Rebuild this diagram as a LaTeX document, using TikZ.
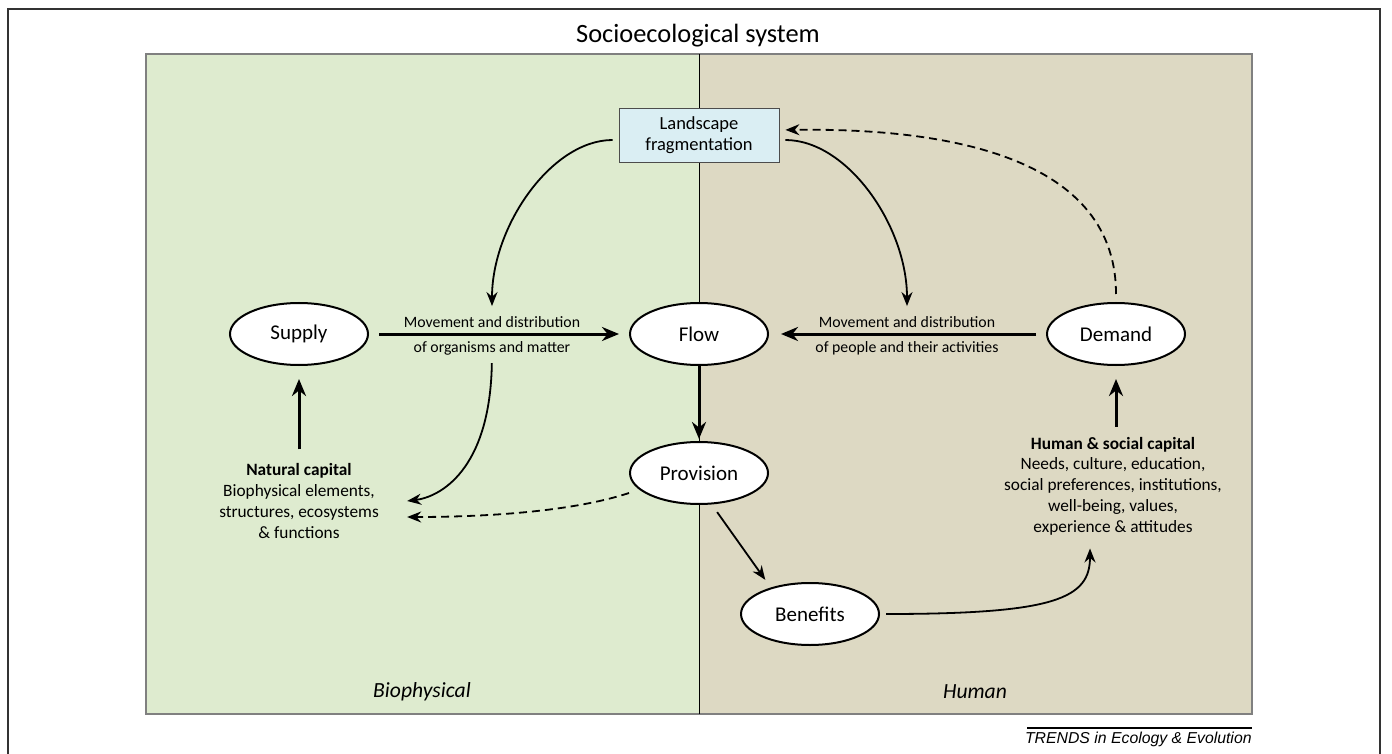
\documentclass[tikz,border=0pt]{standalone}
\usepackage{fontspec}
\setmainfont{Carlito}
\newfontfamily\trendsfont{Liberation Sans}
\usetikzlibrary{arrows.meta,shapes.geometric}

\definecolor{bioGreen}{RGB}{222,235,207}
\definecolor{humTan}{RGB}{221,217,195}
\definecolor{fragBlue}{RGB}{218,238,243}

\tikzset{
  ell/.style={ellipse, draw, line width=1pt, fill=white, minimum width=69pt, minimum height=31pt, inner sep=0pt, font=\fontsize{10.5}{12}\selectfont},
  fatarr/.style={line width=1.5pt, -{Stealth[length=8.5pt,width=7pt]}},
  arr/.style={line width=0.9pt, -{Stealth[length=7pt,width=5.5pt]}},
  mvtxt/.style={inner sep=0pt, font=\fontsize{7.9}{9}\selectfont},
  captxt/.style={align=center, inner sep=0pt, font=\fontsize{8.65}{10.4}\selectfont},
  dsh/.style={dash pattern=on 4pt off 2.5pt}
}

\begin{document}
\begin{tikzpicture}[x=0.5pt, y=-0.5pt]
\useasboundingbox (0,0) rectangle (1392,754);
\draw [line width=0.8pt, black!80](8,754)--(8,9)--(1380,9)--(1380,754);

\fill [bioGreen](146,54) rectangle (699,714);
\fill [humTan](699,54) rectangle (1252,714);
\draw [gray, line width=0.6pt](146,54) rectangle (1252,714);
\draw [line width=0.5pt](699,54)--(699,714);

\node [font=\fontsize{13.2}{15}\selectfont] (title) at (698,36) {Socioecological system};
\node [font=\itshape\fontsize{10.8}{12}\selectfont] (bio) at (422,692) {Biophysical};
\node [font=\itshape\fontsize{10.8}{12}\selectfont] (hum) at (975,692) {Human};

\node [draw=black!70, fill=fragBlue, minimum width=80pt, minimum height=27pt, inner sep=0pt, align=center, font=\fontsize{9.25}{10.5}\selectfont] (frag) at (699,135) {Landscape\\fragmentation};

\node [ell] (supply) at (299,334) {Supply};
\node [ell] (flow) at (699,334) {Flow};
\node [ell] (demand) at (1116,334) {Demand};
\node [ell] (provision) at (699,473) {Provision};
\node [ell] (benefits) at (810,614) {Benefits};

\node [mvtxt] (mvL1) at (492,322) {Movement and distribution};
\node [mvtxt] (mvL2) at (492,348) {of organisms and matter};
\node [mvtxt] (mvR1) at (907,322) {Movement and distribution};
\node [mvtxt] (mvR2) at (907,348) {of people and their activities};

\node [captxt] (natcap) at (299,501) {\textbf{Natural capital}\\Biophysical elements,\\structures, ecosystems\\\& functions};
\node [captxt] (humcap) at (1113,486) {\textbf{Human \& social capital}\\Needs, culture, education,\\social preferences, institutions,\\well-being, values,\\experience \& attitudes};

\draw [fatarr, shorten <=5pt, shorten >=5pt](supply.east)--(flow.west);
\draw [fatarr, shorten <=5pt, shorten >=6pt](demand.west)--(flow.east);
\draw [fatarr, shorten >=1pt](flow.south)--(provision.north);
\draw [fatarr, shorten <=7pt, shorten >=6.5pt](natcap.north)--(supply.south);
\draw [fatarr, shorten <=5pt, shorten >=6.5pt](demand.south |- humcap.north)--(demand.south);

\draw [arr, shorten <=3pt, shorten >=5pt]([yshift=-2.5pt]frag.west) .. controls +(-67,0) and +(0,-90) .. (mvL1.north);
\draw [arr, shorten <=3pt, shorten >=5pt]([yshift=-2.5pt]frag.east) .. controls +(68,0) and +(0,-90) .. (mvR1.north);
\draw [arr, dsh, shorten <=4pt, shorten >=3pt](demand.north) .. controls +(0,-152) and +(151,-2) .. ([yshift=2.5pt]frag.east);

\draw [arr, shorten <=4pt](mvL2.south) .. controls +(-2,116) and +(32,-4) .. ([xshift=14pt]natcap.east);
\draw [arr, dsh]([yshift=-10pt]provision.west) .. controls +(-67,22) and +(52,0) .. ([xshift=14pt,yshift=-8pt]natcap.east);

\draw [arr, shorten <=4.7pt, shorten >=4.7pt](provision.-68)--(benefits.146);
\draw [arr, shorten <=3pt](benefits.east) .. controls +(175,0) and +(0,50) .. ([xshift=-11.5pt,yshift=-6.5pt]humcap.south);

\draw [line width=0.6pt](1027,728)--(1252,728);
\node [anchor=base east, inner sep=0pt, font=\trendsfont\itshape\fontsize{7.9}{9}\selectfont] (trends) at (1252,743) {TRENDS in Ecology \& Evolution};
\end{tikzpicture}
\end{document}
